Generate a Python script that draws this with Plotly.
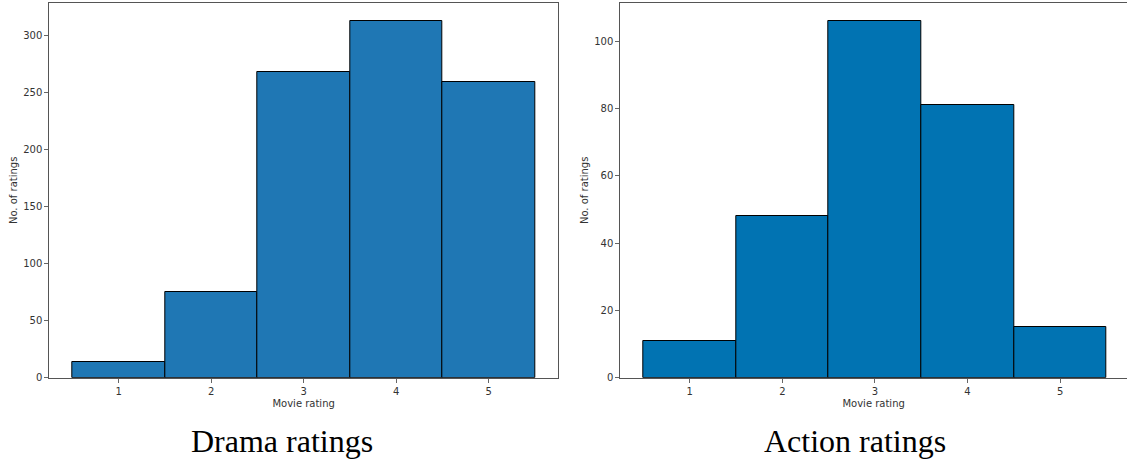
import plotly.graph_objects as go
from plotly.subplots import make_subplots

ratings = [1, 2, 3, 4, 5]
drama_counts = [14, 75, 268, 313, 259]
action_counts = [11, 48, 106, 81, 15]
titles = ["Drama ratings", "Action ratings"]
colors = ["#1f77b4", "#0173b2"]

W, H = 1127, 459
fig = make_subplots(rows=1, cols=2)

for i, (counts, col) in enumerate([(drama_counts, colors[0]), (action_counts, colors[1])]):
    fig.add_trace(go.Bar(x=ratings, y=counts, width=1.0, marker=dict(color=col, line=dict(color="black", width=1)),
                         showlegend=False), row=1, col=i + 1)

ydom = [(H - 377.7) / H, (H - 3) / H]
fig.update_layout(
    width=W, height=H, margin=dict(l=0, r=0, t=0, b=0, autoexpand=False),
    plot_bgcolor="white", paper_bgcolor="white", bargap=0,
    font=dict(family="DejaVu Sans", size=10, color="#333"),
    xaxis=dict(domain=[49.3 / W, 558 / W]),
    xaxis2=dict(domain=[620.3 / W, 1.0]),
    yaxis=dict(domain=ydom), yaxis2=dict(domain=ydom),
)
axcommon = dict(showline=True, linecolor="#555", linewidth=1, showgrid=False, zeroline=False, automargin=False,
                ticks="outside", ticklen=4, tickcolor="#666", tickfont=dict(size=10, color="#333"))
fig.update_xaxes(**axcommon, tickvals=ratings, mirror=True,
                 title=dict(text="Movie rating", font=dict(size=10, color="#333"), standoff=4))
fig.update_xaxes(range=[0.25, 5.75], row=1, col=1)
fig.update_xaxes(range=[0.25, 5.722], row=1, col=2)
fig.update_yaxes(**axcommon, mirror=True,
                 title=dict(text="No. of ratings", font=dict(size=10, color="#333"), standoff=3))
fig.update_yaxes(range=[0, 313 * 1.05], tickvals=[0, 50, 100, 150, 200, 250, 300], row=1, col=1)
fig.update_yaxes(range=[0, 106 * 1.05], tickvals=[0, 20, 40, 60, 80, 100], row=1, col=2)

for x, t in [(282 / W, titles[0]), (855 / W, titles[1])]:
    fig.add_annotation(text=t, x=x, y=(H - 441) / H, xref="paper", yref="paper", showarrow=False,
                       xanchor="center", yanchor="middle",
                       font=dict(family="Liberation Serif", size=32, color="black"))

fig.write_html("out.html", config={"displayModeBar": False},
               post_script="document.body.style.margin='0';document.body.style.overflow='hidden';")
